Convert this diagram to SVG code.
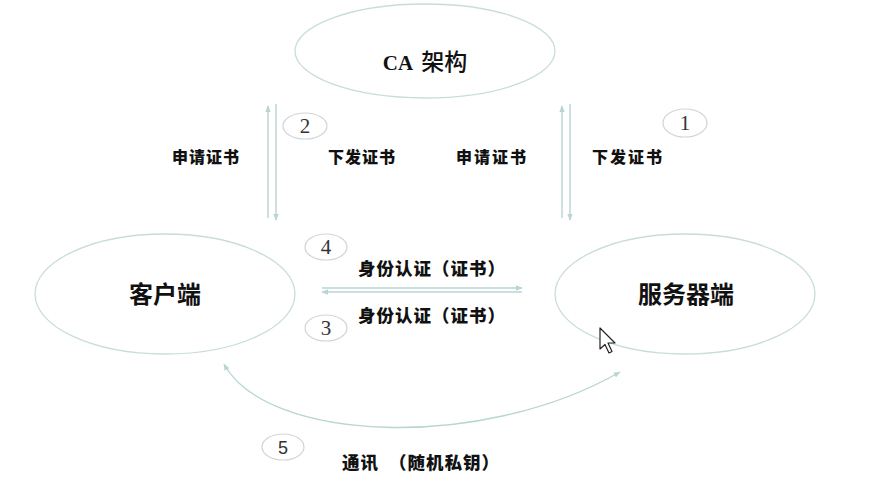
<svg xmlns="http://www.w3.org/2000/svg" width="891" height="486" viewBox="0 0 891 486">
  <defs>
    <style>
      .node { fill: #ffffff; stroke: #c9dcdc; stroke-width: 1.3; }
      .badge { fill: #ffffff; stroke: #cfd6d6; stroke-width: 1.2; }
      .title { font-family: "Noto Sans CJK SC", "Noto Sans", sans-serif; font-size: 24px; font-weight: bold; fill: #111; text-anchor: middle; }
      .lbl { font-family: "Noto Sans CJK SC", "Noto Sans", sans-serif; font-size: 16px; font-weight: 900; fill: #111; }
      .lbl.big { font-size: 17.5px; letter-spacing: 1px; }
      .num { font-family: "Liberation Serif", serif; font-size: 21px; fill: #333; text-anchor: middle; }
      .link { fill: none; stroke: #b9d5d3; stroke-width: 1.4; }
    </style>
    <marker id="head" viewBox="0 0 10 10" refX="9" refY="5" markerWidth="7" markerHeight="7" orient="auto-start-reverse" markerUnits="userSpaceOnUse">
      <path d="M0,1 L10,5 L0,9 Z" fill="#b9d5d3"/>
    </marker>
  </defs>

  <rect width="891" height="486" fill="#ffffff"/>

  <!-- connectors -->
  <g id="connectors">
    <!-- client <-> CA -->
    <line class="link" x1="268" y1="218" x2="268" y2="106" marker-end="url(#head)"/>
    <line class="link" x1="276" y1="104" x2="276" y2="220" marker-end="url(#head)"/>
    <!-- server <-> CA -->
    <line class="link" x1="562" y1="218" x2="562" y2="106" marker-end="url(#head)"/>
    <line class="link" x1="570" y1="104" x2="570" y2="220" marker-end="url(#head)"/>
    <!-- client <-> server identity check -->
    <line class="link" x1="322" y1="288" x2="522" y2="288" marker-end="url(#head)"/>
    <line class="link" x1="522" y1="292" x2="322" y2="292" marker-end="url(#head)"/>
    <!-- session communication -->
    <path class="link" d="M224,364 C266,442 480,452 620,372" marker-start="url(#head)" marker-end="url(#head)"/>
  </g>

  <!-- nodes -->
  <g id="ca">
    <ellipse class="node" cx="425" cy="51" rx="130" ry="47"/>
    <text x="425" y="70" text-anchor="middle" fill="#111"><tspan font-family="Liberation Serif, serif" font-weight="bold" font-size="21">CA</tspan><tspan font-family="Noto Sans CJK SC, sans-serif" font-weight="500" font-size="23" dx="8">架构</tspan></text>
  </g>
  <g id="client">
    <ellipse class="node" cx="165" cy="294" rx="130" ry="60"/>
    <text class="title" x="165" y="303">客户端</text>
  </g>
  <g id="server">
    <ellipse class="node" cx="685" cy="294" rx="130" ry="60"/>
    <text class="title" x="686" y="303">服务器端</text>
  </g>

  <!-- step badges -->
  <g id="step1"><ellipse class="badge" cx="685" cy="123" rx="22" ry="14"/><text class="num" x="685" y="130">1</text></g>
  <g id="step2"><ellipse class="badge" cx="305" cy="126" rx="22" ry="13"/><text class="num" x="305" y="133">2</text></g>
  <g id="step3"><ellipse class="badge" cx="326" cy="328" rx="21" ry="13"/><text class="num" x="326" y="335">3</text></g>
  <g id="step4"><ellipse class="badge" cx="326" cy="247" rx="21" ry="13"/><text class="num" x="326" y="254">4</text></g>
  <g id="step5"><ellipse class="badge" cx="283" cy="447" rx="21" ry="13"/><text x="283" y="454" text-anchor="middle" font-family="Liberation Sans, sans-serif" font-size="18" fill="#333">5</text></g>

  <!-- connector labels -->
  <g id="labels">
    <text class="lbl" x="172" y="163" letter-spacing="1">申请证书</text>
    <text class="lbl" x="328" y="163" letter-spacing="1">下发证书</text>
    <text class="lbl" x="456" y="163" letter-spacing="2">申请证书</text>
    <text class="lbl" x="592" y="163" letter-spacing="2">下发证书</text>
    <text class="lbl big" x="358" y="275">身份认证（证书）</text>
    <text class="lbl big" x="358" y="322">身份认证（证书）</text>
    <text class="lbl big" x="342" y="469" xml:space="preserve">通讯  （随机私钥）</text>
  </g>

  <!-- mouse pointer -->
  <path d="M600,328 L600,349 L605,344.5 L609,353 L612,351.5 L608,343 L615,343 Z" fill="#ffffff" stroke="#222" stroke-width="1.2" stroke-linejoin="round"/>
</svg>
